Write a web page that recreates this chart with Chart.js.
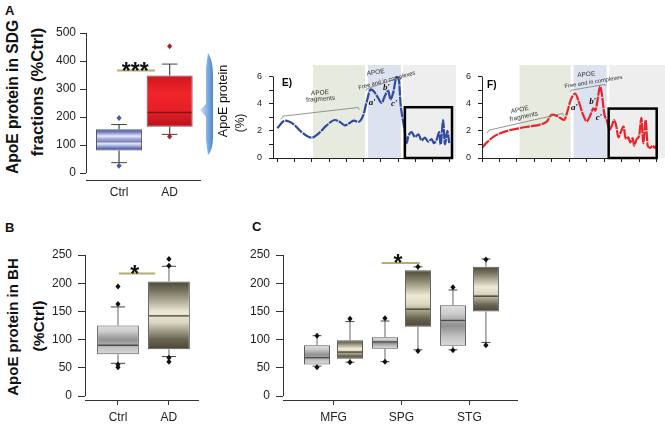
<!DOCTYPE html>
<html>
<head>
<meta charset="utf-8">
<title>ApoE protein</title>
<script src="https://cdn.jsdelivr.net/npm/chart.js@4.4.1/dist/chart.umd.min.js"></script>
<style>
  html, body { margin: 0; padding: 0; background: #fff; }
  #fig { position: relative; width: 665px; height: 424px; overflow: hidden;
         font-family: "Liberation Sans", Arial, sans-serif; color: #111; }
  #fig canvas, #fig .txt, #fig svg { position: absolute; }
  .panel { font-size: 13px; font-weight: bold; }
  .vt { transform: translate(-50%, -50%) rotate(-90deg); white-space: nowrap; }
  .ttl { font-weight: bold; }
</style>
</head>
<body>
<div id="fig">
  <div class="txt panel" style="left:5px;top:3px">A</div>
  <div class="txt vt ttl" style="left:13px;top:97px;font-size:15.6px">ApoE protein in SDG</div>
  <div class="txt vt ttl" style="left:37px;top:92px;font-size:16.5px">fractions (%Ctrl)</div>
  <canvas id="chartA" width="230" height="200" style="left:0;top:0"></canvas>

  <svg width="30" height="120" style="left:192px;top:45px">
    <defs>
      <linearGradient id="arrowFill" x1="0" y1="0" x2="1" y2="0">
        <stop offset="0" stop-color="#d3e3f5"/>
        <stop offset="1" stop-color="#4a86cf"/>
      </linearGradient>
    </defs>
    <path d="M16,8 Q21,15 21,30 L21,92 Q21,105 16,110 L14,95 L14,72 L8,65 L14,59 L14,23 Z" fill="url(#arrowFill)"/>
  </svg>
  <div class="txt vt" style="left:223px;top:101px;font-size:12.5px">ApoE protein</div>
  <div class="txt vt" style="left:240px;top:123px;font-size:12px">(%)</div>
  <canvas id="chartE" width="220" height="110" style="left:240px;top:60px"></canvas>
  <canvas id="chartF" width="205" height="110" style="left:460px;top:60px"></canvas>

  <div class="txt panel" style="left:5px;top:220px">B</div>
  <div class="txt vt ttl" style="left:12px;top:327px;font-size:15px">ApoE protein in BH</div>
  <div class="txt vt ttl" style="left:39px;top:326px;font-size:15.5px">(%Ctrl)</div>
  <canvas id="chartB" width="230" height="219" style="left:0;top:205px"></canvas>

  <div class="txt panel" style="left:252px;top:219px">C</div>
  <canvas id="chartC" width="435" height="219" style="left:230px;top:205px"></canvas>
</div>

<script>
// === Data ===

// A: ApoE protein in SDG fractions (%Ctrl)
const sdgGroups = ['Ctrl', 'AD'];
const sdgQ1 = [80, 165];
const sdgMedian = [112, 216];
const sdgQ3 = [156, 348];
const sdgWhiskerLow = [37, 138];
const sdgWhiskerHigh = [173, 389];
const sdgOutliers = [[196, 26], [453, 130]];

// B: ApoE protein in brain homogenate (%Ctrl)
const bhGroups = ['Ctrl', 'AD'];
const bhQ1 = [74, 83];
const bhMedian = [90, 142];
const bhQ3 = [125, 203];
const bhWhiskerLow = [58, 70];
const bhWhiskerHigh = [158, 230];
const bhOutliers = [[194, 163, 56, 51], [243, 231, 68, 61]];

// C: by brain region, Ctrl vs AD
const regions = ['MFG', 'SPG', 'STG'];
const ctrlQ1 = [56, 84, 89];
const ctrlMedian = [68, 96, 134];
const ctrlQ3 = [90, 104, 161];
const ctrlWhiskerLow = [53, 61, 82];
const ctrlWhiskerHigh = [107, 133, 188];
const ctrlOutliers = [[107, 51], [138, 61], [193, 81]];
const adQ1 = [66, 123, 150];
const adMedian = [78, 154, 177];
const adQ3 = [99, 223, 229];
const adWhiskerLow = [60, 82, 95];
const adWhiskerHigh = [132, 229, 243];
const adOutliers = [[137, 60], [229, 80], [242, 90]];

// E / F: ApoE (%) along the SDG fractions
const fractionsE = [0, 0.45, 0.93, 1.41, 1.99, 2.38, 2.86, 3.34, 3.63, 3.92, 4.21, 4.44, 4.69, 4.98, 5.17,
  5.41, 5.6, 5.85, 6.04, 6.24, 6.43, 6.56, 6.72, 6.91, 7.05, 7.14, 7.26, 7.39, 7.49, 7.59,
  7.78, 7.97, 8.17, 8.36, 8.55, 8.75, 8.94, 9.07, 9.23, 9.38, 9.46, 9.61, 9.71, 9.85, 9.96];
const apoeE = [2.2, 2.75, 2.5, 1.9, 1.5, 1.8, 2.4, 2.8, 2.65, 2.4, 2.6, 2.75, 2.65, 3.15, 4.1,
  5.05, 4.9, 4.4, 4.05, 4.6, 4.95, 4.3, 4.85, 5.95, 5.7, 4.0, 2.9, 1.9, 1.1, 1.6,
  1.9, 1.55, 1.75, 1.3, 1.5, 1.2, 1.4, 1.1, 1.35, 1.9, 1.0, 2.8, 1.0, 2.0, 1.1];
const fractionsF = [0, 0.28, 0.67, 1.05, 1.62, 2.19, 2.76, 3.33, 3.71, 4.0, 4.25, 4.48, 4.7, 4.89, 5.08,
  5.33, 5.52, 5.77, 6.0, 6.19, 6.38, 6.48, 6.61, 6.76, 6.86, 7.0, 7.15, 7.3, 7.43, 7.56,
  7.68, 7.81, 7.94, 8.1, 8.23, 8.38, 8.48, 8.63, 8.7, 8.86, 9.0, 9.12, 9.23, 9.37, 9.48,
  9.62, 9.77, 9.9, 10.0];
const apoeF = [0.75, 1.15, 1.57, 1.82, 2.06, 2.21, 2.33, 2.46, 2.68, 3.19, 3.12, 2.95, 2.8, 3.44, 4.28,
  4.75, 4.23, 3.24, 2.7, 3.12, 3.66, 3.49, 4.23, 5.3, 4.72, 3.24, 2.75, 2.06, 2.38, 2.8,
  2.38, 1.52, 1.89, 2.31, 1.4, 1.52, 1.15, 1.47, 0.91, 1.4, 1.65, 2.95, 1.08, 2.8, 0.91,
  0.74, 0.91, 0.74, 0.91];

// === Styles ===
const FONT = '"Liberation Sans", Arial, sans-serif';
const FILL_BLUE = [[0, '#2e3d92'], [0.12, '#6b7bc2'], [0.32, '#e6e9f7'], [0.5, '#8893cf'], [0.68, '#e0e4f5'], [0.88, '#6877c0'], [1, '#2d3b8f']];
const FILL_RED = [[0, '#d2151d'], [0.35, '#f0252b'], [0.7, '#e61e26'], [1, '#b8111a']];
const FILL_GREY = [[0, '#dedede'], [0.2, '#cdcdcd'], [0.5, '#909090'], [0.8, '#c6c6c6'], [1, '#dadada']];
const FILL_OLIVE = [[0, '#4c4838'], [0.15, '#7d7862'], [0.45, '#ece9d6'], [0.6, '#dcd8c2'], [0.85, '#6b6652'], [1, '#4a4536']];

// gradient fill spanning one box (q1..q3)
function boxFill(c, stops) {
  const chart = c.chart;
  if (c.type !== 'data' || !chart.chartArea) return stops[0][1];
  const ys = chart.scales.y;
  const top = ys.getPixelForValue(c.raw.y[1]);
  const bottom = ys.getPixelForValue(c.raw.y[0]);
  const g = chart.ctx.createLinearGradient(0, top, 0, bottom);
  stops.forEach(([p, col]) => g.addColorStop(p, col));
  return g;
}

function boxDataset(label, q1, q3, box, fills) {
  return {
    label,
    data: q1.map((v, i) => ({ x: i + 1, y: [v, q3[i]] })),
    box,
    backgroundColor: (c) => boxFill(c, fills[c.dataIndex] || fills[0]),
    borderColor: '#585858',
    borderWidth: 1,
    borderSkipped: false,
  };
}

// whiskers, medians, outliers, y spine and significance bar
const boxExtras = {
  id: 'boxExtras',
  afterDatasetsDraw(chart, args, opts) {
    const { ctx, chartArea } = chart;
    const xs = chart.scales.x, ys = chart.scales.y;
    ctx.save();
    ctx.strokeStyle = '#333';
    ctx.lineWidth = 1;
    ctx.beginPath();
    ctx.moveTo(chartArea.left + 0.5, ys.getPixelForValue(0));
    ctx.lineTo(chartArea.left + 0.5, ys.getPixelForValue(opts.spineTop));
    ctx.stroke();

    chart.data.datasets.forEach((ds, di) => {
      const b = ds.box;
      if (!b) return;
      chart.getDatasetMeta(di).data.forEach((bar, i) => {
        const x = bar.x, half = bar.width / 2, cap = bar.width * 0.17;
        const yTop = ys.getPixelForValue(ds.data[i].y[1]);
        const yBot = ys.getPixelForValue(ds.data[i].y[0]);
        const yHi = ys.getPixelForValue(b.high[i]);
        const yLo = ys.getPixelForValue(b.low[i]);
        ctx.strokeStyle = b.whisker;
        ctx.lineWidth = 1.3;
        ctx.beginPath();
        ctx.moveTo(x, yTop); ctx.lineTo(x, yHi);
        ctx.moveTo(x, yBot); ctx.lineTo(x, yLo);
        ctx.stroke();
        ctx.strokeStyle = '#444';
        ctx.lineWidth = 1;
        ctx.beginPath();
        ctx.moveTo(x - cap, yHi); ctx.lineTo(x + cap, yHi);
        ctx.moveTo(x - cap, yLo); ctx.lineTo(x + cap, yLo);
        ctx.stroke();
        const yMed = ys.getPixelForValue(b.median[i]);
        ctx.strokeStyle = b.medianColor[i];
        ctx.lineWidth = 1.3;
        ctx.beginPath();
        ctx.moveTo(x - half + 1, yMed); ctx.lineTo(x + half - 1, yMed);
        ctx.stroke();
        ctx.fillStyle = b.outlierColor[i];
        b.outliers[i].forEach((v) => {
          const y = ys.getPixelForValue(v);
          ctx.beginPath();
          ctx.moveTo(x, y - 3); ctx.lineTo(x + 2.6, y); ctx.lineTo(x, y + 3); ctx.lineTo(x - 2.6, y);
          ctx.closePath();
          ctx.fill();
        });
      });
    });

    const s = opts.sig;
    if (s) {
      const ly = ys.getPixelForValue(s.y);
      ctx.strokeStyle = '#b8ac70';
      ctx.lineWidth = 2;
      ctx.beginPath();
      ctx.moveTo(xs.getPixelForValue(s.from), ly);
      ctx.lineTo(xs.getPixelForValue(s.to), ly);
      ctx.stroke();
      ctx.fillStyle = '#111';
      ctx.font = 'bold 23px ' + FONT;
      ctx.textAlign = 'center';
      ctx.textBaseline = 'alphabetic';
      ctx.fillText(s.text, xs.getPixelForValue(s.at), ly + 8);
    }
    ctx.restore();
  },
};

function boxOptions(cfg) {
  return {
    responsive: false,
    animation: false,
    layout: { padding: { top: cfg.top, right: cfg.right, left: 0, bottom: 0 } },
    plugins: {
      legend: { display: false },
      tooltip: { enabled: false },
      boxExtras: { spineTop: cfg.yTicks[cfg.yTicks.length - 1], sig: cfg.sig },
    },
    datasets: { bar: { barPercentage: cfg.barPct, categoryPercentage: cfg.catPct } },
    scales: {
      x: {
        type: 'linear', bounds: 'data', offset: false, min: cfg.xMin, max: cfg.xMax,
        afterBuildTicks: (s) => { s.ticks = cfg.labels.map((_, i) => ({ value: i + 1 })); },
        afterFit: (s) => { s.height = cfg.xHeight; s.paddingLeft = s.paddingRight = 0; },
        ticks: { callback: (v) => cfg.labels[v - 1] || '', font: { family: FONT, size: 12 }, color: '#222',
                 padding: cfg.xPad, autoSkip: false, maxRotation: 0 },
        grid: { offset: false, drawOnChartArea: false, drawTicks: cfg.xTicks, tickLength: 5, color: '#333' },
        border: { display: true, color: '#333', width: 1 },
      },
      y: {
        min: cfg.yMin, max: cfg.yTicks[cfg.yTicks.length - 1], bounds: 'data',
        afterBuildTicks: (s) => { s.ticks = cfg.yTicks.map((v) => ({ value: v })); },
        afterFit: (s) => { s.width = cfg.yWidth; s.paddingTop = s.paddingBottom = 0; },
        ticks: { callback: (v) => (v % cfg.labelStep === 0 ? v : ''), font: { family: FONT, size: 12 },
                 color: '#222', padding: cfg.yPad },
        grid: { drawOnChartArea: false, tickLength: cfg.yTickLen, color: '#333' },
        border: { display: false },
      },
    },
  };
}

// === Panel A ===
new Chart(document.getElementById('chartA'), {
  type: 'bar',
  data: {
    datasets: [boxDataset('SDG', sdgQ1, sdgQ3, {
      median: sdgMedian, low: sdgWhiskerLow, high: sdgWhiskerHigh, outliers: sdgOutliers,
      whisker: '#555', medianColor: ['#7880b4', '#8a1117'], outlierColor: ['#4a58a6', '#a8222a'],
    }, [FILL_BLUE, FILL_RED])],
  },
  options: boxOptions({
    labels: sdgGroups, top: 33, right: 30, xMin: 0.347, xMax: 2.6, xHeight: 20, xPad: 5, xTicks: false,
    yMin: -25, yTicks: [0, 100, 200, 300, 400, 500], labelStep: 100, yWidth: 86, yPad: 4, yTickLen: 6,
    barPct: 0.91, catPct: 1,
    sig: { from: 0.96, to: 1.71, at: 1.32, y: 366, text: '***' },
  }),
  plugins: [boxExtras],
});

// === Panel B ===
new Chart(document.getElementById('chartB'), {
  type: 'bar',
  data: {
    datasets: [boxDataset('BH', bhQ1, bhQ3, {
      median: bhMedian, low: bhWhiskerLow, high: bhWhiskerHigh, outliers: bhOutliers,
      whisker: '#8a8a8a', medianColor: ['#4a4a4a', '#3c3a30'], outlierColor: ['#111', '#111'],
    }, [FILL_GREY, FILL_OLIVE])],
  },
  options: boxOptions({
    labels: bhGroups, top: 50, right: 32, xMin: 0.353, xMax: 2.57, xHeight: 24, xPad: 5, xTicks: true,
    yMin: -7, yTicks: [0, 25, 50, 75, 100, 125, 150, 175, 200, 225, 250], labelStep: 50, yWidth: 85, yPad: 6, yTickLen: 7,
    barPct: 0.82, catPct: 1,
    sig: { from: 1.02, to: 1.73, at: 1.33, y: 217, text: '*' },
  }),
  plugins: [boxExtras],
});

// === Panel C ===
new Chart(document.getElementById('chartC'), {
  type: 'bar',
  data: {
    datasets: [
      boxDataset('Ctrl', ctrlQ1, ctrlQ3, {
        median: ctrlMedian, low: ctrlWhiskerLow, high: ctrlWhiskerHigh, outliers: ctrlOutliers,
        whisker: '#8a8a8a', medianColor: ['#4a4a4a', '#4a4a4a', '#4a4a4a'], outlierColor: ['#111', '#111', '#111'],
      }, [FILL_GREY]),
      boxDataset('AD', adQ1, adQ3, {
        median: adMedian, low: adWhiskerLow, high: adWhiskerHigh, outliers: adOutliers,
        whisker: '#8a8a8a', medianColor: ['#3c3a30', '#3c3a30', '#3c3a30'], outlierColor: ['#111', '#111', '#111'],
      }, [FILL_OLIVE]),
    ],
  },
  options: boxOptions({
    labels: regions, top: 50, right: 148, xMin: 0.257, xMax: 3.7, xHeight: 24, xPad: 5, xTicks: true,
    yMin: -7, yTicks: [0, 25, 50, 75, 100, 125, 150, 175, 200, 225, 250], labelStep: 50, yWidth: 53, yPad: 6, yTickLen: 7,
    barPct: 0.79, catPct: 0.97,
    sig: { from: 1.71, to: 2.27, at: 1.95, y: 236, text: '*' },
  }),
  plugins: [boxExtras],
});

// === Panels E / F: fraction profiles ===
const profileDecor = {
  id: 'profileDecor',
  beforeDatasetsDraw(chart, args, o) {
    const { ctx, chartArea: a } = chart;
    const xs = chart.scales.x;
    ctx.save();
    o.bands.forEach((b) => {
      const x0 = xs.getPixelForValue(b.from), x1 = xs.getPixelForValue(b.to);
      ctx.fillStyle = b.color;
      ctx.fillRect(x0, a.top, x1 - x0, a.bottom - a.top);
    });
    ctx.restore();
  },
  afterDatasetsDraw(chart, args, o) {
    const { ctx, chartArea: a } = chart;
    const xs = chart.scales.x, ys = chart.scales.y;
    ctx.save();
    ctx.strokeStyle = '#222';
    ctx.lineWidth = 1;
    ctx.beginPath();
    ctx.moveTo(a.left + 0.5, ys.getPixelForValue(0));
    ctx.lineTo(a.left + 0.5, ys.getPixelForValue(6));
    ctx.stroke();

    ctx.strokeStyle = '#7a7a7a';
    ctx.lineWidth = 0.8;
    o.brackets.forEach((pts) => {
      ctx.beginPath();
      pts.forEach(([x, y], i) => {
        const px = xs.getPixelForValue(x), py = ys.getPixelForValue(y);
        if (i) ctx.lineTo(px, py); else ctx.moveTo(px, py);
      });
      ctx.stroke();
    });

    const r = o.inset;
    const rx0 = xs.getPixelForValue(r.from), rx1 = xs.getPixelForValue(r.to);
    const ry0 = ys.getPixelForValue(r.top), ry1 = ys.getPixelForValue(0);
    ctx.strokeStyle = '#000';
    ctx.lineWidth = 2.5;
    ctx.strokeRect(rx0, ry0, rx1 - rx0, ry1 - ry0);

    o.labels.forEach((l) => {
      ctx.save();
      ctx.translate(xs.getPixelForValue(l.x), ys.getPixelForValue(l.y));
      ctx.rotate(((l.rot || 0) * Math.PI) / 180);
      ctx.font = l.font;
      ctx.fillStyle = l.color || '#333';
      ctx.textAlign = l.align || 'center';
      ctx.textBaseline = 'middle';
      ctx.fillText(l.text, 0, 0);
      ctx.restore();
    });
    ctx.restore();
  },
};

const SMALL = '6.5px ' + FONT;
const PRIME = 'italic bold 9px "Liberation Serif", "DejaVu Serif", serif';

function profileChart(id, xs, ys, color, cfg) {
  return new Chart(document.getElementById(id), {
    type: 'line',
    data: {
      datasets: [{
        data: xs.map((x, i) => ({ x, y: ys[i] })),
        borderColor: color, borderWidth: 2.2, borderDash: [10, 1],
        pointRadius: 0, fill: false, cubicInterpolationMode: 'monotone',
      }],
    },
    options: {
      responsive: false,
      animation: false,
      layout: { padding: { top: 5, right: cfg.right, left: 0, bottom: 0 } },
      plugins: {
        legend: { display: false },
        tooltip: { enabled: false },
        profileDecor: cfg.decor,
      },
      scales: {
        x: {
          type: 'linear', bounds: 'data', min: cfg.xMin, max: cfg.xMax,
          afterBuildTicks: (s) => { s.ticks = Array.from({ length: 11 }, (_, i) => ({ value: i })); },
          afterFit: (s) => { s.height = 12; s.paddingLeft = s.paddingRight = 0; },
          ticks: { callback: () => '', autoSkip: false },
          grid: { drawOnChartArea: false, tickLength: 4, color: '#222' },
          border: { display: true, color: '#222', width: 1 },
        },
        y: {
          min: 0, max: 6.85, bounds: 'data',
          afterBuildTicks: (s) => { s.ticks = [0, 1, 2, 3, 4, 5, 6].map((v) => ({ value: v })); },
          afterFit: (s) => { s.width = cfg.yWidth; s.paddingTop = s.paddingBottom = 0; },
          ticks: { callback: (v) => (v % 2 === 0 ? v : ''), font: { family: FONT, size: 9 }, color: '#222', padding: 7 },
          grid: { drawOnChartArea: false, tickLength: 4, color: '#222' },
          border: { display: false },
        },
      },
    },
    plugins: [profileDecor],
  });
}

profileChart('chartE', fractionsE, apoeE, '#2f4a9e', {
  xMin: -0.25, xMax: 10.12, right: 8, yWidth: 33,
  decor: {
    bands: [
      { from: 2.07, to: 5.08, color: '#e6eadf' },
      { from: 5.25, to: 7.16, color: '#dde2f0' },
      { from: 7.28, to: 10.35, color: '#eeeeee' },
    ],
    inset: { from: 7.39, to: 10.12, top: 3.74 },
    brackets: [
      [[0.2, 2.85], [0.32, 3.08], [4.68, 3.72], [4.75, 3.55]],
      [[5.12, 4.95], [5.2, 5.1], [7.15, 5.95], [7.2, 5.8]],
    ],
    labels: [
      { x: 0.27, y: 5.49, text: 'E)', font: 'bold 10px ' + FONT, align: 'left', color: '#000' },
      { x: 2.47, y: 4.8, text: 'APOE', font: SMALL, rot: -4 },
      { x: 2.51, y: 4.34, text: 'fragments', font: SMALL, rot: -4 },
      { x: 5.7, y: 6.3, text: 'APOE', font: SMALL, rot: -8 },
      { x: 6.35, y: 5.72, text: 'Free and in complexes', font: '5.8px ' + FONT, rot: -15 },
      { x: 5.5, y: 4.11, text: 'a\u2032', font: PRIME, color: '#111' },
      { x: 6.33, y: 5.21, text: 'b\u2032', font: PRIME, color: '#111' },
      { x: 6.77, y: 3.99, text: 'c\u2032', font: PRIME, color: '#111' },
    ],
  },
});

profileChart('chartF', fractionsF, apoeF, '#e8262a', {
  xMin: 0, xMax: 10, right: 8.3, yWidth: 22,
  decor: {
    bands: [
      { from: 2.15, to: 5.08, color: '#e6eadf' },
      { from: 5.24, to: 7.14, color: '#dde2f0' },
      { from: 7.29, to: 10.47, color: '#eeeeee' },
    ],
    inset: { from: 7.25, to: 10.0, top: 3.64 },
    brackets: [
      [[0.3, 1.85], [0.4, 2.05], [4.6, 3.28], [4.67, 3.12]],
      [[5.05, 4.85], [5.12, 5.0], [7.05, 5.42], [7.1, 5.28]],
    ],
    labels: [
      { x: 0.29, y: 5.37, text: 'F)', font: 'bold 10px ' + FONT, align: 'left', color: '#000' },
      { x: 2.16, y: 3.55, text: 'APOE', font: SMALL, rot: -12 },
      { x: 2.39, y: 3.06, text: 'fragments', font: SMALL, rot: -12 },
      { x: 5.97, y: 6.15, text: 'APOE', font: SMALL, rot: -5 },
      { x: 6.38, y: 5.61, text: 'Free and in complexes', font: '5.8px ' + FONT, rot: -9 },
      { x: 5.29, y: 3.74, text: 'a\u2032', font: PRIME, color: '#111' },
      { x: 6.34, y: 4.14, text: 'b\u2032', font: PRIME, color: '#111' },
      { x: 6.7, y: 2.96, text: 'c\u2032', font: PRIME, color: '#111' },
    ],
  },
});
</script>
</body>
</html>
